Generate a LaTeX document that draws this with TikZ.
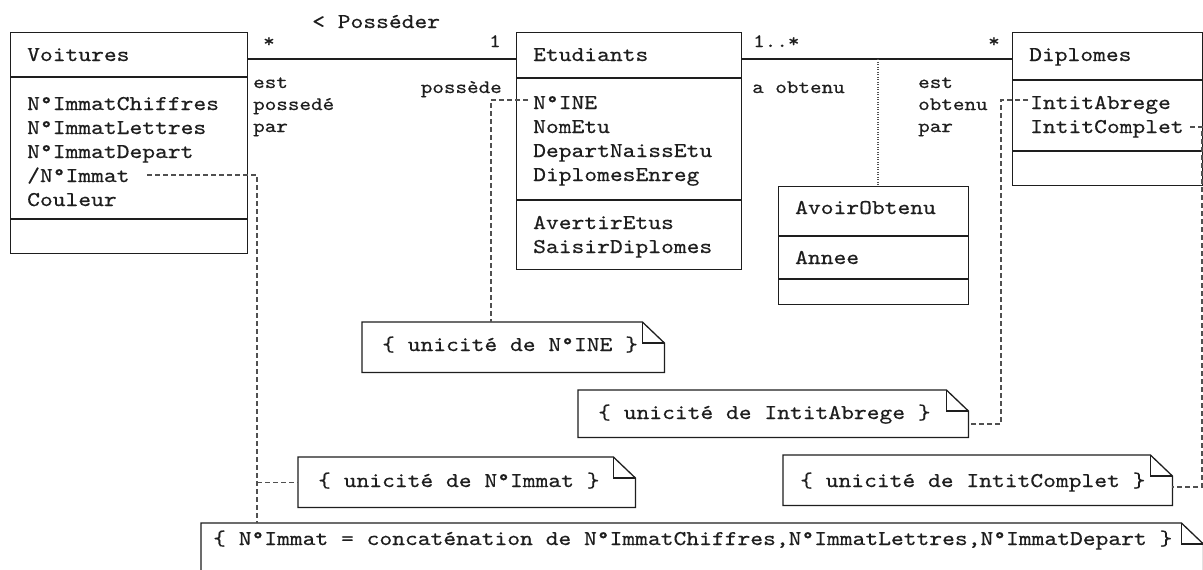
\documentclass[tikz,border=0pt]{standalone}
\usepackage{fontspec}
\setmainfont{lmmono10-regular}[Extension=.otf, FakeStretch=1.16, FakeBold=0.4]
\definecolor{ln}{HTML}{1E1E1E}
\definecolor{dsh}{HTML}{505050}
\tikzset{
  box/.style={draw=ln, line width=1.3pt, inner sep=0pt, anchor=north west},
  hold/.style={inner sep=0pt, anchor=north west},
  txt/.style={anchor=base west, inner sep=0pt, font=\fontsize{21}{24}\selectfont, text=ln},
  role/.style={anchor=base west, inner sep=0pt, font=\fontsize{19}{22}\selectfont, text=ln},
  conn/.style={draw=ln, line width=1.2pt},
  sepl/.style={draw=ln, line width=1.3pt},
  dep/.style={draw=dsh, line width=1.2pt, dash pattern=on 5pt off 3pt},
  dotl/.style={draw=dsh, line width=1.2pt, dash pattern=on 1pt off 1.5pt},
  notel/.style={draw=ln, line width=1.3pt, line join=miter}
}
\newcommand{\dogear}[1]{%
  \draw[notel] (#1.north west) -- ([xshift=-22pt]#1.north east) -- ([yshift=-21pt]#1.north east) -- (#1.south east) -- (#1.south west) -- cycle;
  \draw[notel] ([xshift=-22pt]#1.north east) -- ([xshift=-22pt,yshift=-21pt]#1.north east) -- ([yshift=-21pt]#1.north east);}
\begin{document}
\begin{tikzpicture}[x=1pt,y=-1pt]
\useasboundingbox (0,0) rectangle (1203,570);
\fill[white] (0,0) rectangle (1203,570);

% ---------- Voitures ----------
\node[box, minimum width=237pt, minimum height=221pt] (vo) at (10,32) {};
\draw[sepl] (10,77) -- (247,77);
\draw[sepl] (10,219) -- (247,219);
\node[txt] (voN) at (27,61) {Voitures};
\node[txt] (va1) at (27,110) {N°ImmatChiffres};
\node[txt] (va2) at (27,134) {N°ImmatLettres};
\node[txt] (va3) at (27,158) {N°ImmatDepart};
\node[txt] (va4) at (27,182) {/N°Immat};
\node[txt] (va5) at (27,206) {Couleur};

% ---------- Etudiants ----------
\node[box, minimum width=225pt, minimum height=237pt] (et) at (516,32) {};
\draw[sepl] (516,78) -- (741,78);
\draw[sepl] (516,200) -- (741,200);
\node[txt] (etN) at (533,61) {Etudiants};
\node[txt] (ea1) at (533,109) {N°INE};
\node[txt] (ea2) at (533,133) {NomEtu};
\node[txt] (ea3) at (533,157) {DepartNaissEtu};
\node[txt] (ea4) at (533,181) {DiplomesEnreg};
\node[txt] (eo1) at (533,229) {AvertirEtus};
\node[txt] (eo2) at (533,253) {SaisirDiplomes};

% ---------- Diplomes ----------
\node[box, minimum width=190pt, minimum height=153pt] (di) at (1012,32) {};
\draw[sepl] (1012,80) -- (1202,80);
\draw[sepl] (1012,151) -- (1202,151);
\node[txt] (diN) at (1029,61) {Diplomes};
\node[txt] (da1) at (1030,109) {IntitAbrege};
\node[txt] (da2) at (1030,133) {IntitComplet};

% ---------- AvoirObtenu ----------
\node[box, minimum width=190pt, minimum height=118pt] (ao) at (778,186) {};
\draw[sepl] (778,236) -- (968,236);
\draw[sepl] (778,279) -- (968,279);
\node[txt] (aoN) at (795,214) {AvoirObtenu};
\node[txt] (aoA) at (795,264) {Annee};

% ---------- associations ----------
\coordinate (aY) at (0,59);
\draw[conn] (vo.north east |- aY) -- (et.north west |- aY);
\draw[conn] (et.north east |- aY) -- (di.north west |- aY);
\coordinate (aoTop) at (878,59);
\draw[dotl] (aoTop) -- (aoTop |- ao.north);

\node[txt] (posseder) at (312,28) {< Posséder};
\node[role] (m1) at (263,47) {*};
\node[role] (m2) at (489,47) {1};
\node[role] (m3) at (753,47) {1..*};
\node[role] (m4) at (988,47) {*};
\node[role] (r1a) at (253,88) {est};
\node[role] (r1b) at (253,110) {possedé};
\node[role] (r1c) at (253,132) {par};
\node[role, anchor=base east] (r2) at (502,93) {possède};
\node[role] (r3) at (752,93) {a obtenu};
\node[role] (r4a) at (918,88) {est};
\node[role] (r4b) at (918,110) {obtenu};
\node[role] (r4c) at (918,132) {par};

% ---------- notes ----------
\node[hold, minimum width=302pt, minimum height=50pt] (n1) at (362,322) {};
\dogear{n1}
\node[txt] (n1t) at (382,351) {\{ unicité de N°INE \}};

\node[hold, minimum width=390pt, minimum height=47pt] (n2) at (578,390) {};
\dogear{n2}
\node[txt] (n2t) at (598,419) {\{ unicité de IntitAbrege \}};

\node[hold, minimum width=337pt, minimum height=50pt] (n4) at (298,457) {};
\dogear{n4}
\node[txt] (n4t) at (318,487) {\{ unicité de N°Immat \}};

\node[hold, minimum width=389pt, minimum height=50pt] (n3) at (783,455) {};
\dogear{n3}
\node[txt] (n3t) at (800,487) {\{ unicité de IntitComplet \}};

\node[hold, minimum width=1002pt, minimum height=70pt] (n5) at (201,523) {};
\dogear{n5}
\node[txt] (n5t) at (213,545) {\{ N°Immat = concaténation de N°ImmatChiffres,N°ImmatLettres,N°ImmatDepart \}};

% ---------- dependencies ----------
\coordinate (d1a) at (147,175);
\coordinate (d1b) at (257,175);
\draw[dep] (d1a) -- (d1b) -- (d1b |- n5.north);
\draw[dep] (d1b |- n4.west) -- (n4.west);

\coordinate (d2a) at (528,100);
\coordinate (d2b) at (491,100);
\draw[dep] (d2a) -- (d2b) -- (d2b |- n1.north);

\coordinate (d3a) at (1028,100);
\coordinate (d3b) at (1001,100);
\coordinate (d3c) at (1001,424);
\draw[dep] (d3a) -- (d3b) -- (d3c) -- (d3c -| n2.east);

\coordinate (d4a) at (1190,127);
\coordinate (d4b) at (1202,127);
\coordinate (d4c) at (1202,487);
\draw[dep] (d4a) -- (d4b) -- (d4c) -- (d4c -| n3.east);
\end{tikzpicture}
\end{document}
